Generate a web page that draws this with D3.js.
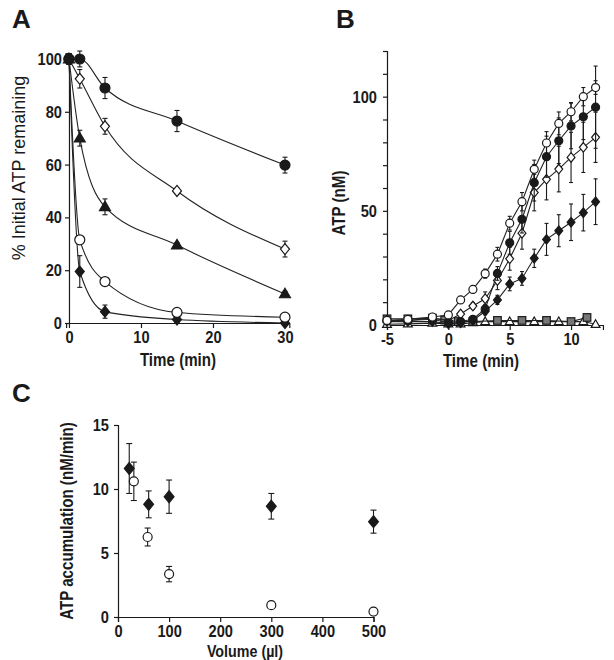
<!DOCTYPE html>
<html><head><meta charset="utf-8">
<script src="https://cdn.jsdelivr.net/npm/d3@7"></script>
<style>
body{margin:0;background:#fff;}
svg{display:block;}
</style></head><body>
<svg id="chart" width="614" height="660"></svg>
<script>
// ---------- Panel A data ----------
const timeA = [0, 1.5, 5, 15, 30];
const aFilledCircle = [100, 100, 89, 76.5, 59.8];
const aFilledCircleErr = [2, 3, 4, 4, 3];
const aOpenDiamond = [100, 92.5, 74.5, 50, 28];
const aOpenDiamondErr = [2, 3.5, 3, 1, 3];
const aFilledTriangle = [100, 70, 44, 29.5, 11];
const aFilledTriangleErr = [2, 3, 3, 1, 1];
const aOpenCircle = [100, 31.5, 15.7, 4, 2.2];
const aOpenCircleErr = [2, 1, 1, 1, 1];
const aFilledDiamond = [100, 19.5, 4.3, 1.3, 0];
const aFilledDiamondErr = [2, 6, 2.5, 1, 0.5];
const ticksAx = [0, 10, 20, 30];
const ticksAy = [0, 20, 40, 60, 80, 100];

// ---------- Panel B data ----------
const timeB = [-5, -3.3, -1.3, 0, 1, 2, 3, 4, 5, 6, 7, 8, 9, 10, 11, 12];
const bOpenCircle = [2, 2.5, 3.5, 4.4, 11, 15.6, 22.5, 31, 44.6, 54, 68.2, 79.7, 88.3, 93.4, 100, 104];
const bOpenCircleErr = [1, 1, 1, 1, 1, 1.5, 2, 3, 3, 4, 4, 5, 5, 4, 4, 3];
const bFilledCircle = [2, 2, 2.5, 1, 1.5, 2.5, 7, 22.6, 36, 46.3, 62.3, 73.7, 80.7, 87.2, 91.2, 95.4];
const bFilledCircleErr = [1, 1, 1, 1, 1, 1, 2, 3, 5, 6, 8, 9, 10, 10, 10, 18];
const bOpenDiamond = [2, 2, 3, 2, 4.8, 8.3, 11.5, 19.5, 29, 40.2, 58, 63.8, 68.3, 73.4, 77.8, 82.2];
const bOpenDiamondErr = [1, 1, 1, 1, 1, 1.5, 3, 4, 5, 7, 8, 9, 10, 11, 11, 11];
const bFilledDiamond = [1.5, 1.5, 1.5, 0.5, 1, 2, 6, 11, 18, 20.4, 29.2, 37.5, 41.3, 45, 49.2, 54];
const bFilledDiamondErr = [1, 1, 1, 1, 1, 1, 1.5, 2, 3, 3, 4, 7, 7, 8, 8, 10];
const timeBSquare = [-5, -3.3, -1.3, -0.3, 0.8, 2, 4, 6, 8, 10, 11.3];
const bSquare = [2.7, 2.7, 3, 2.2, 1.5, 1.5, 2, 2, 2, 1.5, 3.3];
const timeBTriangle = [-5, -3.3, -1.3, 0, 1, 2, 3, 5, 7, 9, 11, 12];
const bTriangle = [0.3, 0.5, 0.8, 0.5, 0.5, 1, 1.5, 1.5, 1.5, 1.5, 1.5, 0.3];
const ticksBx = [-5, 0, 5, 10];
const ticksBy = [0, 10, 20, 30, 40, 50, 60, 70, 80, 90, 100, 110, 120];
const labelsBy = [0, 50, 100];

// ---------- Panel C data ----------
const volDiamond = [22, 60, 100, 300, 500];
const cFilledDiamond = [11.6, 8.8, 9.4, 8.65, 7.45];
const cFilledDiamondErr = [1.95, 1.05, 1.3, 1.0, 0.9];
const volCircle = [31, 58, 100, 300, 500];
const cOpenCircle = [10.6, 6.25, 3.35, 0.92, 0.42];
const cOpenCircleErr = [1.5, 0.7, 0.6, 0, 0];
const ticksCx = [0, 100, 200, 300, 400, 500];
const ticksCy = [0, 5, 10, 15];

// ---------- drawing ----------
const svg = d3.select('#chart');
const SANS = '"Liberation Sans",Arial,Helvetica,sans-serif';
const INK = '#1a1a1a';

function styleAxis(g) {
  g.selectAll('path,line').attr('stroke', INK).attr('stroke-width', 1.2);
  g.selectAll('text').attr('font-family', SANS).attr('font-weight', 'bold')
    .attr('font-size', 17).attr('fill', INK).attr('data-condense', 0.86);
}

function marker(g, type, x, y, r, fill) {
  let el;
  if (type === 'circle') {
    el = g.append('circle').attr('cx', x).attr('cy', y).attr('r', r);
  } else if (type === 'diamond') {
    const w = r * 0.82;
    el = g.append('path').attr('d', `M${x},${y - r}L${x + w},${y}L${x},${y + r}L${x - w},${y}Z`);
  } else if (type === 'triangle') {
    const h = r * 1.9, w = r * 1.1;
    el = g.append('path').attr('d', `M${x},${y - h * 0.6}L${x + w},${y + h * 0.4}L${x - w},${y + h * 0.4}Z`);
  } else if (type === 'square') {
    el = g.append('rect').attr('x', x - r).attr('y', y - r).attr('width', 2 * r).attr('height', 2 * r);
  }
  el.attr('fill', fill).attr('stroke', INK).attr('stroke-width', 1.2);
}

function errBar(g, x, y0, y1, cap) {
  if (Math.abs(y1 - y0) < 1) return;
  g.append('line').attr('x1', x).attr('x2', x).attr('y1', y0).attr('y2', y1)
    .attr('stroke', INK).attr('stroke-width', 1.1);
  [y0, y1].forEach(yy => g.append('line').attr('x1', x - cap).attr('x2', x + cap)
    .attr('y1', yy).attr('y2', yy).attr('stroke', INK).attr('stroke-width', 1.1));
}

function series(g, xs, ys, errs, xS, yS, opts) {
  const pts = xs.map((t, i) => [xS(t), yS(ys[i])]);
  if (opts.line) {
    g.append('path').attr('d', d3.line().curve(opts.curve || d3.curveLinear)(pts))
      .attr('fill', 'none').attr('stroke', '#222').attr('stroke-width', 1.1);
  }
  if (errs) {
    xs.forEach((t, i) => errBar(g, xS(t), yS(ys[i] - errs[i]), yS(ys[i] + errs[i]), opts.cap || 2.5));
  }
  pts.forEach(p => marker(g, opts.type, p[0], p[1], opts.r, opts.fill));
}

function panelLabel(txt, x, y) {
  svg.append('text').attr('x', x).attr('y', y).text(txt)
    .attr('font-family', SANS).attr('font-weight', 'bold')
    .attr('font-size', 26).attr('fill', INK);
}

function title(txt, x, y, rotate, weight, condense, size) {
  const t = svg.append('text').text(txt).attr('text-anchor', 'middle')
    .attr('font-family', SANS).attr('font-weight', weight || 'bold')
    .attr('font-size', size || 18).attr('fill', INK);
  if (condense) t.attr('data-condense', condense);
  if (rotate) t.attr('transform', `translate(${x},${y}) rotate(-90)`);
  else t.attr('x', x).attr('y', y);
}

const fmt = d => String(d);

// ===== Panel A =====
const xA = d3.scaleLinear().domain([-0.4, 30.6]).range([66.1, 289.3]);
const yA = d3.scaleLinear().domain([0, 102]).range([323, 53.7]);
const gA = svg.append('g');
gA.append('g').attr('transform', `translate(0,${yA(0)})`)
  .call(d3.axisBottom(xA).tickValues(ticksAx).tickFormat(fmt).tickSizeOuter(0).tickSize(5).tickPadding(3)).call(styleAxis);
gA.append('g').attr('transform', `translate(${xA(0)},0)`)
  .call(d3.axisLeft(yA).tickValues(ticksAy).tickFormat(fmt).tickSizeOuter(0).tickSize(4).tickPadding(3)).call(styleAxis);
const curveA = d3.curveMonotoneX;
series(gA, timeA, aFilledDiamond, aFilledDiamondErr, xA, yA, {line: true, curve: curveA, type: 'diamond', r: 5.5, fill: INK});
series(gA, timeA, aOpenCircle, aOpenCircleErr, xA, yA, {line: true, curve: curveA, type: 'circle', r: 5, fill: '#fff'});
series(gA, timeA, aFilledTriangle, aFilledTriangleErr, xA, yA, {line: true, curve: curveA, type: 'triangle', r: 5, fill: INK});
series(gA, timeA, aOpenDiamond, aOpenDiamondErr, xA, yA, {line: true, curve: curveA, type: 'diamond', r: 5.5, fill: '#fff'});
series(gA, timeA, aFilledCircle, aFilledCircleErr, xA, yA, {line: true, curve: curveA, type: 'circle', r: 5, fill: INK});
panelLabel('A', 12, 28);
title('% Initial ATP remaining', 25, 168, true, 'normal', null, 18);
title('Time (min)', 178, 366, false, 'bold', 0.84);

// ===== Panel B =====
const xB = d3.scaleLinear().domain([-5, 12.6]).range([387, 387 + 17.6 * 12.27]);
const yB = d3.scaleLinear().domain([0, 120]).range([325, 51]);
const gB = svg.append('g');
gB.append('g').attr('transform', `translate(0,${yB(0)})`)
  .call(d3.axisBottom(xB).tickValues(ticksBx).tickFormat(fmt).tickSizeOuter(0).tickSize(5).tickPadding(3)).call(styleAxis);
gB.append('g').attr('transform', `translate(${xB(-5)},0)`)
  .call(d3.axisLeft(yB).tickValues(ticksBy).tickFormat(d => labelsBy.includes(d) ? String(d) : '')
    .tickSizeOuter(0).tickSize(4).tickPadding(6)).call(styleAxis);
series(gB, timeBTriangle, bTriangle, null, xB, yB, {line: true, type: 'triangle', r: 4, fill: '#fff'});
series(gB, timeBSquare, bSquare, null, xB, yB, {line: true, type: 'square', r: 3.8, fill: '#777'});
series(gB, timeB, bFilledDiamond, bFilledDiamondErr, xB, yB, {line: true, type: 'diamond', r: 4.8, fill: INK, cap: 2});
series(gB, timeB, bOpenDiamond, bOpenDiamondErr, xB, yB, {line: true, type: 'diamond', r: 4.8, fill: '#fff', cap: 2});
series(gB, timeB, bFilledCircle, bFilledCircleErr, xB, yB, {line: true, type: 'circle', r: 4, fill: INK, cap: 2});
series(gB, timeB, bOpenCircle, bOpenCircleErr, xB, yB, {line: true, type: 'circle', r: 4, fill: '#fff', cap: 2});
panelLabel('B', 336, 28);
title('ATP (nM)', 345, 203, true, 'bold', 0.84);
title('Time (min)', 481, 367, false, 'bold', 0.84);

// ===== Panel C =====
const xC = d3.scaleLinear().domain([0, 500]).range([118, 373.5]);
const yC = d3.scaleLinear().domain([0, 15]).range([617, 425]);
const gC = svg.append('g');
gC.append('g').attr('transform', `translate(0,${yC(0)})`)
  .call(d3.axisBottom(xC).tickValues(ticksCx).tickFormat(fmt).tickSizeOuter(0).tickSize(5).tickPadding(3)).call(styleAxis);
gC.append('g').attr('transform', `translate(${xC(0)},0)`)
  .call(d3.axisLeft(yC).tickValues(ticksCy).tickFormat(fmt).tickSizeOuter(0).tickSize(4).tickPadding(5)).call(styleAxis);
series(gC, volCircle, cOpenCircle, cOpenCircleErr, xC, yC, {line: false, type: 'circle', r: 4.5, fill: '#fff', cap: 3});
series(gC, volDiamond, cFilledDiamond, cFilledDiamondErr, xC, yC, {line: false, type: 'diamond', r: 6, fill: INK, cap: 3});
panelLabel('C', 12, 402);
title('ATP accumulation (nM/min)', 73, 521, true, 'bold', 0.84);
title('Volume (µl)', 245, 657, false, 'bold', 0.84, 17);

// emulate a condensed typeface by compressing glyphs horizontally
svg.selectAll('text[data-condense]').each(function () {
  const f = +this.getAttribute('data-condense');
  const L = this.getComputedTextLength();
  if (L > 0) {
    this.setAttribute('textLength', (L * f).toFixed(2));
    this.setAttribute('lengthAdjust', 'spacingAndGlyphs');
  }
});
</script>
</body></html>
